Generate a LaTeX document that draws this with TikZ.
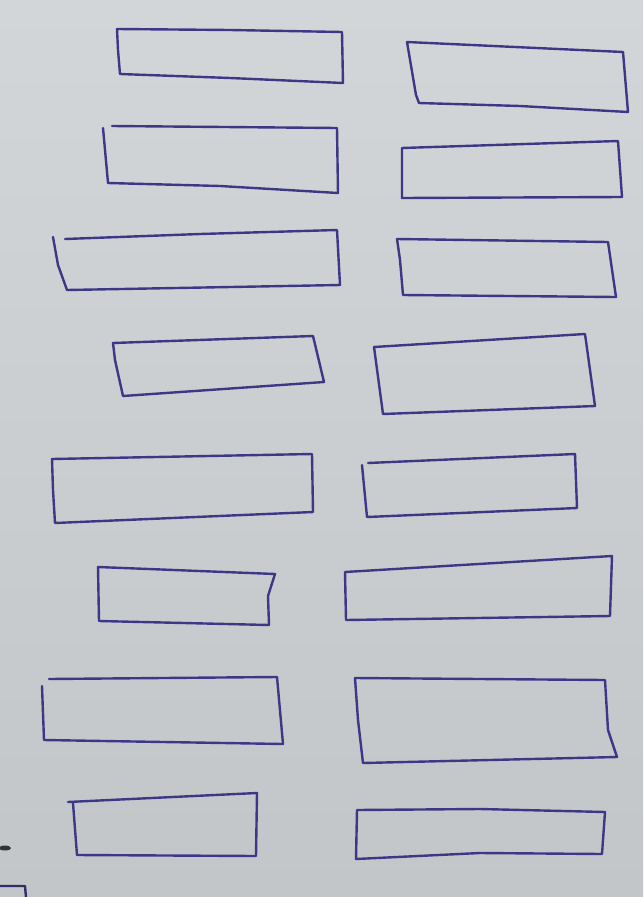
\documentclass[tikz,border=0pt]{standalone}
\definecolor{papertop}{HTML}{D3D6D8}
\definecolor{paperbot}{HTML}{C2C6C9}
\definecolor{ink}{HTML}{3C3886}
\begin{document}
\begin{tikzpicture}[x=1pt,y=-1pt,
  pen/.style={draw=ink,line width=2.4pt,line join=round,line cap=round}]
\useasboundingbox (0,0) rectangle (643,897);
\shade[top color=papertop,bottom color=paperbot] (0,0) rectangle (643,897);
% left column
\draw[pen] (117,29) -- (230,30) -- (342,32) -- (343,83) -- (230,78) -- (120,74) -- (118,50) -- cycle;
\draw[pen] (112,126) -- (337,128) -- (338,193) -- (220,186) -- (108,183) -- (103,128);
\draw[pen] (65,239) -- (200,234) -- (337,230) -- (340,285) -- (67,290) -- (58,265) -- (53,237);
\draw[pen] (113,343) -- (313,336) -- (324,382) -- (123,396) -- (115,360) -- cycle;
\draw[pen] (52,459) -- (312,454) -- (313,512) -- (55,523) -- (53,490) -- cycle;
\draw[pen] (98,567) -- (275,574) -- (268,596) -- (269,625) -- (99,621) -- cycle;
\draw[pen] (49,679) -- (277,677) -- (283,744) -- (44,740) -- (42,686);
\draw[pen] (68,802) -- (257,793) -- (256,856) -- (77,855) -- (73,803);
% right column
\draw[pen] (407,42) -- (623,52) -- (628,112) -- (520,106) -- (419,103) -- (416,95) -- cycle;
\draw[pen] (402,148) -- (618,141) -- (622,197) -- (402,198) -- cycle;
\draw[pen] (397,239) -- (608,242) -- (616,297) -- (403,295) -- (400,260) -- cycle;
\draw[pen] (374,347) -- (585,334) -- (595,406) -- (383,414) -- cycle;
\draw[pen] (368,463) -- (575,454) -- (577,508) -- (367,517) -- (362,465);
\draw[pen] (345,572) -- (612,556) -- (610,616) -- (346,620) -- cycle;
\draw[pen] (355,678) -- (605,680) -- (608,730) -- (617,757) -- (363,763) -- (358,720) -- cycle;
\draw[pen] (357,810) -- (480,809) -- (605,812) -- (602,854) -- (480,853) -- (356,859) -- cycle;
% stray marks
\fill[black!80] (5,848) ellipse (6pt and 2.5pt);
\draw[pen,draw=ink!80!black] (0,886) -- (25,886) -- (26,897);
\end{tikzpicture}
\end{document}
